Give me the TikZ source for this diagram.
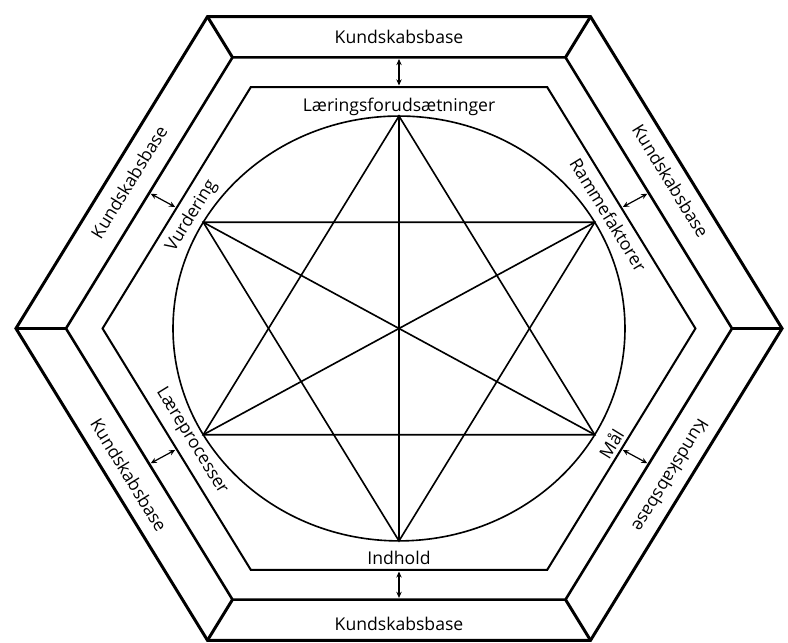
\documentclass[tikz,border=0pt]{standalone}
\usepackage{fontspec}
\setmainfont{Open Sans}
\usetikzlibrary{arrows.meta}

\begin{document}
\begin{tikzpicture}[
    x=1cm, y=0.94cm,
    every node/.style={inner sep=0pt, font=\fontsize{13}{15}\selectfont},
    frame/.style={line width=2.2pt},
    band/.style={line width=1.9pt},
    inner/.style={line width=1.5pt},
    star/.style={line width=1.2pt},
    link/.style={line width=0.9pt, shorten <=1.2pt, shorten >=1.2pt,
        {Stealth[length=4.5pt,width=4pt]}-{Stealth[length=4.5pt,width=4pt]}}
]

\useasboundingbox (-10.364,-8.690) rectangle (10.104,9.077);

% ================= Hexagons =================

\foreach \i in {1,...,6} {
    \coordinate (o\i) at ({60*(\i-1)}:9.95);
    \coordinate (m\i) at ({60*(\i-1)}:8.65);
    \coordinate (n\i) at ({60*(\i-1)}:7.7);
}

\draw[frame] (o1)--(o2)--(o3)--(o4)--(o5)--(o6)--cycle;
\draw[band] (m1)--(m2)--(m3)--(m4)--(m5)--(m6)--cycle;
\draw[inner] (n1)--(n2)--(n3)--(n4)--(n5)--(n6)--cycle;

\foreach \i in {1,...,6}
    \draw[frame] (o\i)--(m\i);



% ================= Circle and star =================

\draw[star] (0,0) circle (5.87);

\foreach \i in {1,...,6}
    \coordinate (s\i) at ({60*\i-30}:5.87);

\draw[star] (s2)--(s4)--(s6)--cycle;
\draw[star] (s1)--(s3)--(s5)--cycle;
\draw[star] (s1)--(s4);
\draw[star] (s2)--(s5);
\draw[star] (s3)--(s6);



% ================= Arrows =================

\foreach \i in {1,...,6} {
    \coordinate (a\i) at ({60*\i-30}:7.49);
    \coordinate (b\i) at ({60*\i-30}:6.67);
    \draw[link] (a\i)--(b\i);
}



% ================= Labels =================

\node (kb1) at (90:8.05) {Kundskabsbase};
\node[rotate=58.4] (kb2) at (150:8.1) {Kundskabsbase};
\node[rotate=-58.4] (kb3) at (210:8.1) {Kundskabsbase};
\node (kb4) at (270:8.15) {Kundskabsbase};
\node[rotate=238.4] (kb5) at (330:8.15) {Kundskabsbase};
\node[rotate=-58.4] (kb6) at (30:8.15) {Kundskabsbase};

\node (lf) at (90:6.12) {Læringsforudsætninger};
\node[rotate=-58.4] (rf) at (30:6.28) {Rammefaktorer};
\node[rotate=58.4] (ml) at (330:6.36) {Mål};
\node (ih) at (270:6.33) {Indhold};
\node[rotate=-58.4] (lp) at (210:6.22) {Læreprocesser};
\node[rotate=58.4] (vu) at (150:6.22) {Vurdering};

\end{tikzpicture}
\end{document}
